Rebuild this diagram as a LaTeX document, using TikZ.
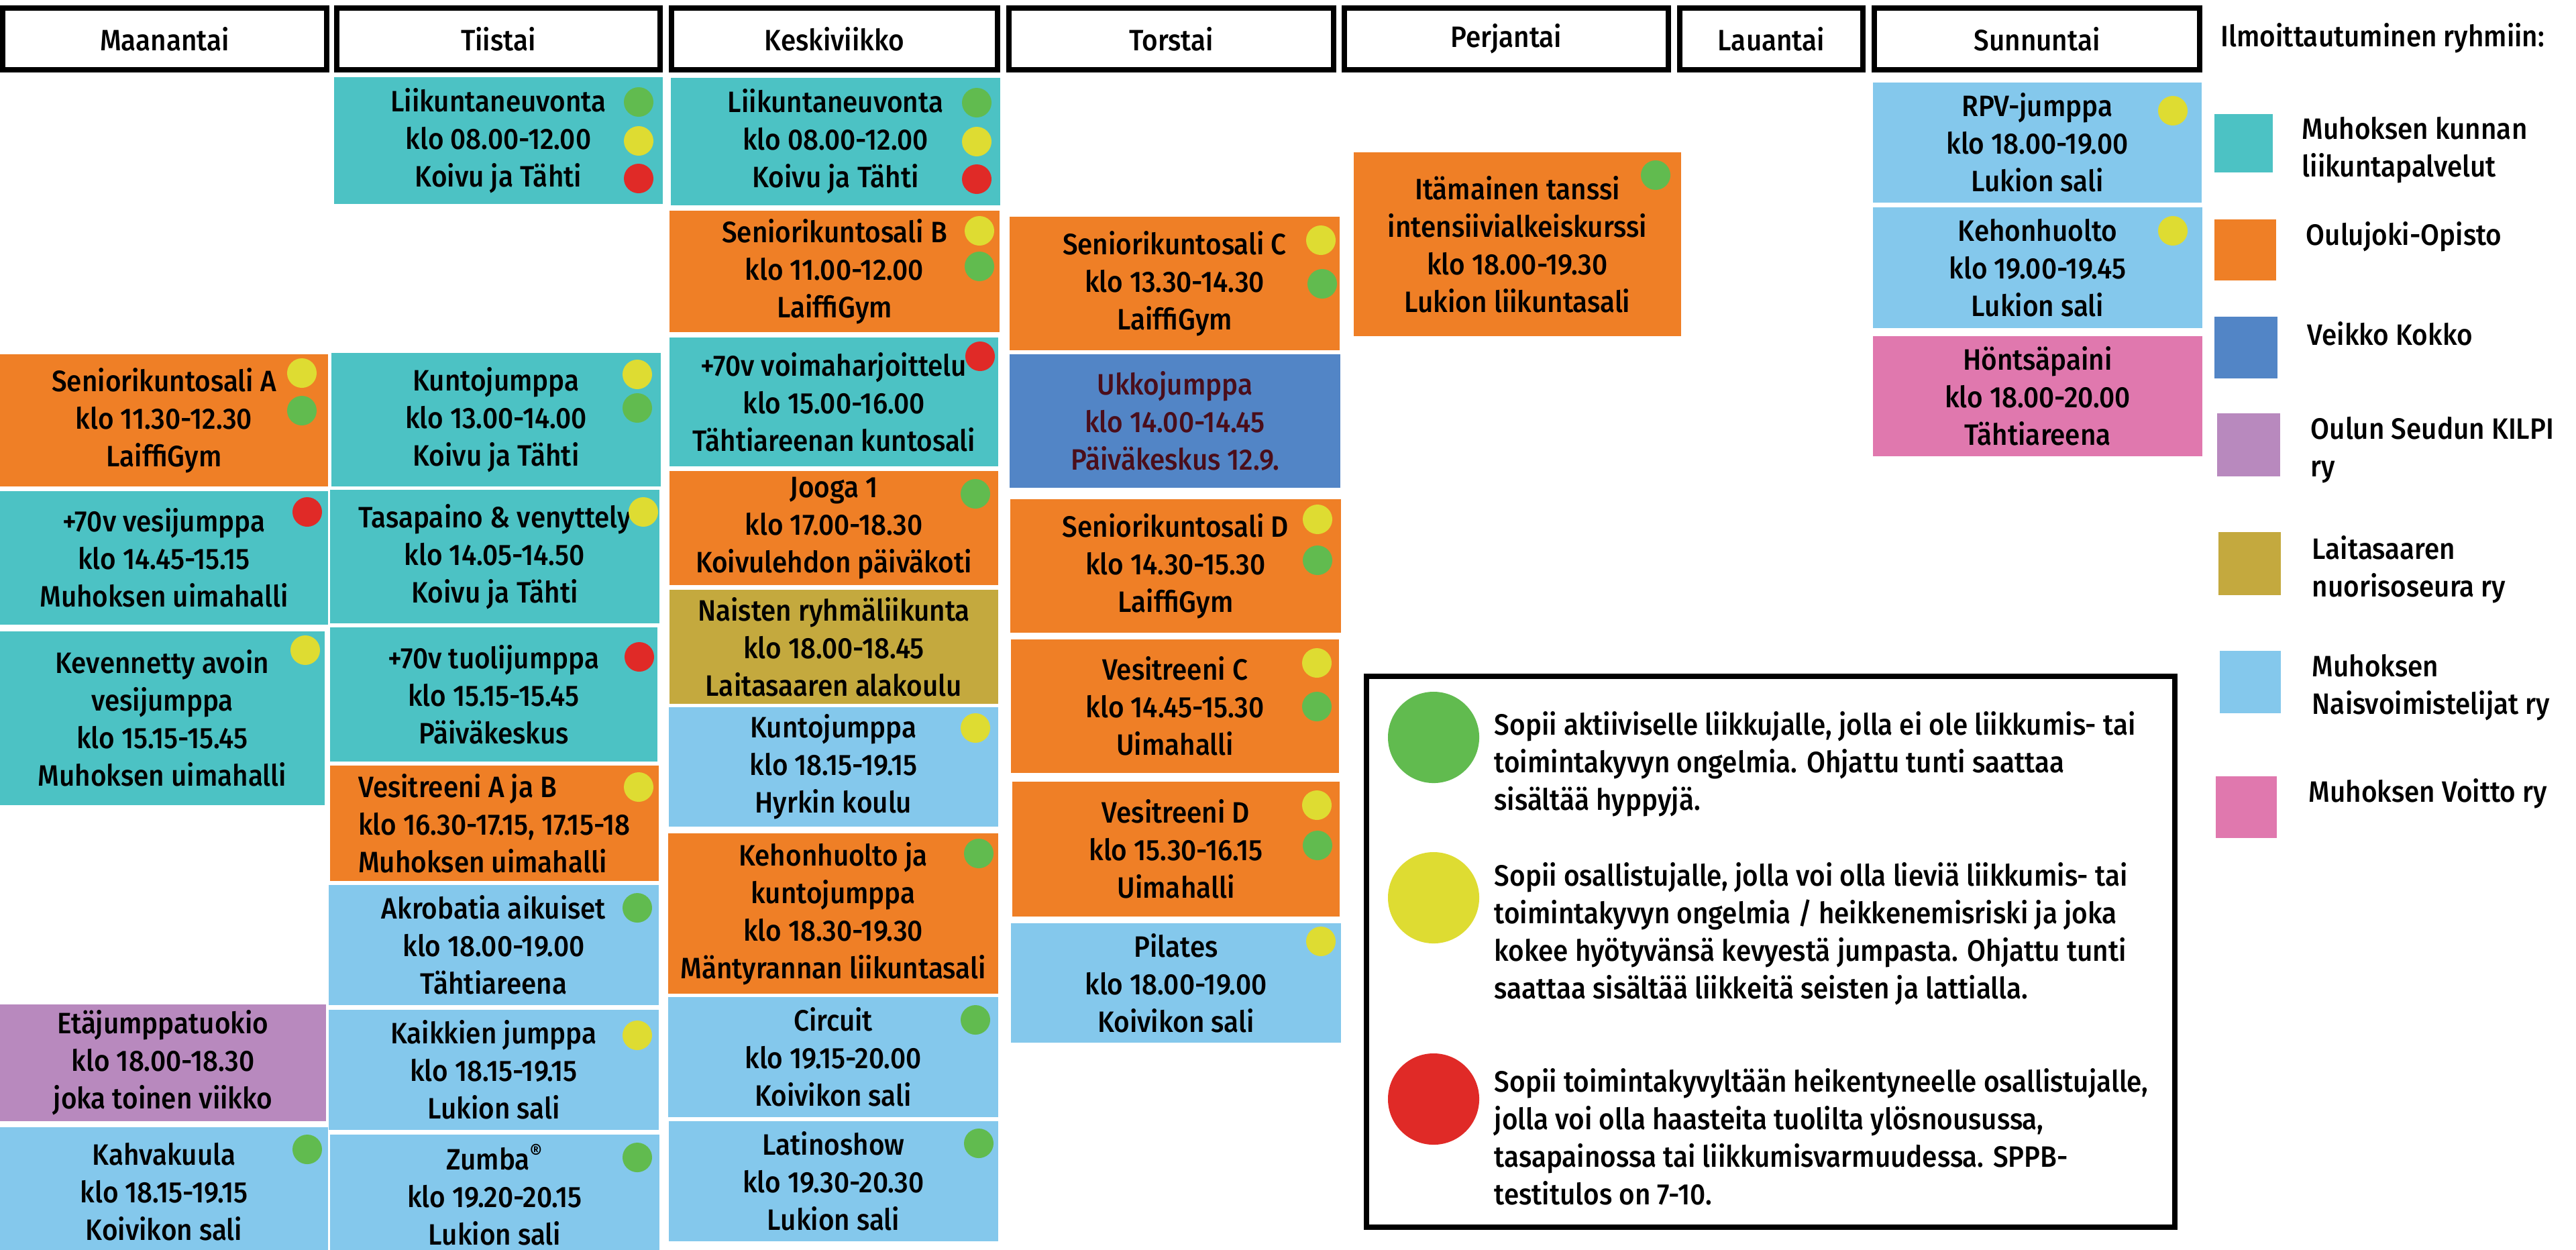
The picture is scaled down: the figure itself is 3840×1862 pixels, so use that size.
\documentclass[tikz,border=0pt]{standalone}
\usepackage{fontspec}
\setmainfont{Fira Sans Medium}[FakeStretch=0.92]
\definecolor{tealc}{RGB}{76,194,196}
\definecolor{orangec}{RGB}{239,127,38}
\definecolor{bluec}{RGB}{82,133,198}
\definecolor{purplec}{RGB}{184,137,190}
\definecolor{olivec}{RGB}{196,169,62}
\definecolor{skyc}{RGB}{132,200,236}
\definecolor{pinkc}{RGB}{224,120,174}
\definecolor{dotg}{RGB}{97,187,79}
\definecolor{doty}{RGB}{222,220,50}
\definecolor{dotr}{RGB}{224,42,39}
\definecolor{ukkotext}{RGB}{74,14,27}
\newcommand\slotfont{\fontsize{12.5pt}{15.9pt}\selectfont}

\begin{document}
\begin{tikzpicture}[x=0.01cm,y=-0.01cm,
      cell/.style n args={4}{inner sep=0pt,align=center,font=\slotfont,
        minimum width={(#3-#1)*0.01cm},minimum height={(#4-#2)*0.01cm},
        at={({(#1+#3)/2},{(#2+#4)/2})}},
      dayhead/.style={draw,line width=0.08cm},
      dot/.style={circle,inner sep=0pt,minimum size=0.44cm},
      bigdot/.style={circle,inner sep=0pt,minimum size=1.36cm},
      legtext/.style={anchor=west,align=left,font=\slotfont,inner sep=0pt}]
  \useasboundingbox (0,0) rectangle (3840,1862);
  \clip (0,0) rectangle (3840,1862);
  % weekdays
  \node[dayhead,cell={4}{12}{487}{104}] (mon) {Maanantai};
  \node[dayhead,cell={502}{12}{984}{104}] (tue) {Tiistai};
  \node[dayhead,cell={1001}{12}{1487}{104}] (wed) {Keskiviikko};
  \node[dayhead,cell={1504}{12}{1988}{104}] (thu) {Torstai};
  \node[dayhead,cell={2004}{12}{2487}{104}] (fri) {Perjantai};
  \node[dayhead,cell={2504}{12}{2777}{104}] (sat) {Lauantai};
  \node[dayhead,cell={2794}{12}{3279}{104}] (sun) {Sunnuntai};
  % Maanantai
  \node[fill=orangec,cell={0}{528}{489}{725}] (mon1) {Seniorikuntosali A\\klo 11.30-12.30\\LaiffiGym};
  \node[fill=tealc,cell={0}{732}{489}{931}] (mon2) {+70v vesijumppa\\klo 14.45-15.15\\Muhoksen uimahalli};
  \node[fill=tealc,cell={0}{941}{484}{1200}] (mon3) {Kevennetty avoin\\vesijumppa\\klo 15.15-15.45\\Muhoksen uimahalli};
  \node[fill=purplec,cell={0}{1497}{486}{1671}] (mon4) {Etäjumppatuokio\\klo 18.00-18.30\\joka toinen viikko};
  \node[fill=skyc,cell={0}{1680}{489}{1872}] (mon5) {Kahvakuula\\klo 18.15-19.15\\Koivikon sali};
  \node[dot,fill=doty] (mon1y) at (450,556) {};
  \node[dot,fill=dotg] (mon1g) at (450,612) {};
  \node[dot,fill=dotr] (mon2r) at (458,763) {};
  \node[dot,fill=doty] (mon3y) at (455,969) {};
  \node[dot,fill=dotg] (mon5g) at (458,1713) {};
  % Tiistai
  \node[fill=tealc,cell={498}{115}{988}{304}] (tue1) {Liikuntaneuvonta\\klo 08.00-12.00\\Koivu ja Tähti};
  \node[fill=tealc,cell={494}{526}{985}{725}] (tue2) {Kuntojumppa\\klo 13.00-14.00\\Koivu ja Tähti};
  \node[fill=tealc,cell={492}{730}{983}{929}] (tue3) {Tasapaino \& venyttely\\klo 14.05-14.50\\Koivu ja Tähti};
  \node[fill=tealc,cell={492}{935}{980}{1135}] (tue4) {+70v tuolijumppa\\klo 15.15-15.45\\Päiväkeskus};
  \node[fill=orangec,cell={492}{1141}{982}{1313},align=left] (tue5) {Vesitreeni A ja B\\klo 16.30-17.15, 17.15-18\\Muhoksen uimahalli};
  \node[fill=skyc,cell={490}{1319}{982}{1498}] (tue6) {Akrobatia aikuiset\\klo 18.00-19.00\\Tähtiareena};
  \node[fill=skyc,cell={490}{1505}{982}{1684}] (tue7) {Kaikkien jumppa\\klo 18.15-19.15\\Lukion sali};
  \node[fill=skyc,cell={492}{1691}{983}{1870}] (tue8) {Zumba\textsuperscript{®}\\klo 19.20-20.15\\Lukion sali};
  \node[dot,fill=dotg] (tue1g) at (952,152) {};
  \node[dot,fill=doty] (tue1y) at (952,210) {};
  \node[dot,fill=dotr] (tue1r) at (952,266) {};
  \node[dot,fill=doty] (tue2y) at (950,558) {};
  \node[dot,fill=dotg] (tue2g) at (950,608) {};
  \node[dot,fill=doty] (tue3y) at (959,763) {};
  \node[dot,fill=dotr] (tue4r) at (953,979) {};
  \node[dot,fill=doty] (tue5y) at (952,1173) {};
  \node[dot,fill=dotg] (tue6g) at (950,1353) {};
  \node[dot,fill=doty] (tue7y) at (950,1543) {};
  \node[dot,fill=dotg] (tue8g) at (950,1725) {};
  % Keskiviikko
  \node[fill=tealc,cell={1000}{116}{1491}{306}] (wed1) {Liikuntaneuvonta\\klo 08.00-12.00\\Koivu ja Tähti};
  \node[fill=orangec,cell={998}{314}{1490}{495}] (wed2) {Seniorikuntosali B\\klo 11.00-12.00\\LaiffiGym};
  \node[fill=tealc,cell={998}{503}{1488}{695}] (wed3) {+70v voimaharjoittelu\\klo 15.00-16.00\\Tähtiareenan kuntosali};
  \node[fill=orangec,cell={998}{702}{1488}{872}] (wed4) {Jooga 1\\klo 17.00-18.30\\Koivulehdon päiväkoti};
  \node[fill=olivec,cell={998}{879}{1488}{1049}] (wed5) {Naisten ryhmäliikunta\\klo 18.00-18.45\\Laitasaaren alakoulu};
  \node[fill=skyc,cell={997}{1054}{1488}{1232}] (wed6) {Kuntojumppa\\klo 18.15-19.15\\Hyrkin koulu};
  \node[fill=orangec,cell={996}{1242}{1488}{1481}] (wed7) {Kehonhuolto ja\\kuntojumppa\\klo 18.30-19.30\\Mäntyrannan liikuntasali};
  \node[fill=skyc,cell={996}{1486}{1488}{1665}] (wed8) {Circuit\\klo 19.15-20.00\\Koivikon sali};
  \node[fill=skyc,cell={997}{1671}{1488}{1850}] (wed9) {Latinoshow\\klo 19.30-20.30\\Lukion sali};
  \node[dot,fill=dotg] (wed1g) at (1456,153) {};
  \node[dot,fill=doty] (wed1y) at (1456,211) {};
  \node[dot,fill=dotr] (wed1r) at (1456,267) {};
  \node[dot,fill=doty] (wed2y) at (1460,344) {};
  \node[dot,fill=dotg] (wed2g) at (1460,397) {};
  \node[dot,fill=dotr] (wed3r) at (1461,531) {};
  \node[dot,fill=dotg] (wed4g) at (1454,736) {};
  \node[dot,fill=doty] (wed6y) at (1454,1085) {};
  \node[dot,fill=dotg] (wed7g) at (1459,1272) {};
  \node[dot,fill=dotg] (wed8g) at (1454,1520) {};
  \node[dot,fill=dotg] (wed9g) at (1459,1704) {};
  % Torstai
  \node[fill=orangec,cell={1505}{323}{1997}{522}] (thu1) {Seniorikuntosali C\\klo 13.30-14.30\\LaiffiGym};
  \node[fill=bluec,text=ukkotext,cell={1505}{528}{1998}{727}] (thu2) {Ukkojumppa\\klo 14.00-14.45\\Päiväkeskus 12.9.};
  \node[fill=orangec,cell={1506}{744}{1999}{943}] (thu3) {Seniorikuntosali D\\klo 14.30-15.30\\LaiffiGym};
  \node[fill=orangec,cell={1507}{953}{1996}{1152}] (thu4) {Vesitreeni C\\klo 14.45-15.30\\Uimahalli};
  \node[fill=orangec,cell={1509}{1165}{1997}{1366}] (thu5) {Vesitreeni D\\klo 15.30-16.15\\Uimahalli};
  \node[fill=skyc,cell={1507}{1376}{1999}{1554}] (thu6) {Pilates\\klo 18.00-19.00\\Koivikon sali};
  \node[dot,fill=doty] (thu1y) at (1969,358) {};
  \node[dot,fill=dotg] (thu1g) at (1971,423) {};
  \node[dot,fill=doty] (thu3y) at (1964,774) {};
  \node[dot,fill=dotg] (thu3g) at (1964,835) {};
  \node[dot,fill=doty] (thu4y) at (1963,988) {};
  \node[dot,fill=dotg] (thu4g) at (1963,1053) {};
  \node[dot,fill=doty] (thu5y) at (1963,1200) {};
  \node[dot,fill=dotg] (thu5g) at (1964,1260) {};
  \node[dot,fill=doty] (thu6y) at (1969,1403) {};
  % Perjantai
  \node[fill=orangec,cell={2018}{227}{2506}{501}] (fri1) {Itämainen tanssi\\intensiivialkeiskurssi\\klo 18.00-19.30\\Lukion liikuntasali};
  \node[dot,fill=dotg] (fri1g) at (2468,261) {};
  % Sunnuntai
  \node[fill=skyc,cell={2792}{123}{3282}{302}] (sun1) {RPV-jumppa\\klo 18.00-19.00\\Lukion sali};
  \node[fill=skyc,cell={2792}{309}{3283}{489}] (sun2) {Kehonhuolto\\klo 19.00-19.45\\Lukion sali};
  \node[fill=pinkc,cell={2792}{501}{3283}{680}] (sun3) {Höntsäpaini\\klo 18.00-20.00\\Tähtiareena};
  \node[dot,fill=doty] (sun1y) at (3239,165) {};
  \node[dot,fill=doty] (sun2y) at (3239,344) {};
  % organisers
  \node[legtext] (ilmo) at (3310,57) {Ilmoittautuminen ryhmiin:};
  \node[fill=tealc,cell={3301}{170}{3388}{257}] (sw1) {};
  \node[fill=orangec,cell={3301}{327}{3393}{418}] (sw2) {};
  \node[fill=bluec,cell={3301}{472}{3395}{564}] (sw3) {};
  \node[fill=purplec,cell={3305}{616}{3399}{710}] (sw4) {};
  \node[fill=olivec,cell={3307}{793}{3400}{887}] (sw5) {};
  \node[fill=skyc,cell={3309}{970}{3400}{1063}] (sw6) {};
  \node[fill=pinkc,cell={3303}{1157}{3394}{1249}] (sw7) {};
  \node[legtext] (org1) at (3431,224) {Muhoksen kunnan\\liikuntapalvelut};
  \node[legtext] (org2) at (3437,353) {Oulujoki-Opisto};
  \node[legtext] (org3) at (3439,497) {Veikko Kokko};
  \node[legtext] (org4) at (3444,671) {Oulun Seudun KILPI\\ry};
  \node[legtext] (org5) at (3446,849) {Laitasaaren\\nuorisoseura ry};
  \node[legtext] (org6) at (3446,1025) {Muhoksen\\Naisvoimistelijat ry};
  \node[legtext] (org7) at (3441,1183) {Muhoksen Voitto ry};
  % colour key
  \node[dayhead,cell={2037}{1008}{3242}{1829}] (key) {};
  \node[bigdot,fill=dotg] (keyg) at (2137,1099) {};
  \node[bigdot,fill=doty] (keyy) at (2137,1338) {};
  \node[bigdot,fill=dotr] (keyr) at (2137,1638) {};
  \node[legtext] (keygt) at (2227,1139) {Sopii aktiiviselle liikkujalle, jolla ei ole liikkumis- tai\\toimintakyvyn ongelmia. Ohjattu tunti saattaa\\sisältää hyppyjä.};
  \node[legtext] (keyyt) at (2227,1392) {Sopii osallistujalle, jolla voi olla lieviä liikkumis- tai\\toimintakyvyn ongelmia / heikkenemisriski ja joka\\kokee hyötyvänsä kevyestä jumpasta. Ohjattu tunti\\saattaa sisältää liikkeitä seisten ja lattialla.};
  \node[legtext] (keyrt) at (2227,1694) {Sopii toimintakyvyltään heikentyneelle osallistujalle,\\jolla voi olla haasteita tuolilta ylösnousussa,\\tasapainossa tai liikkumisvarmuudessa. SPPB-\\testitulos on 7-10.};
\end{tikzpicture}
\end{document}
